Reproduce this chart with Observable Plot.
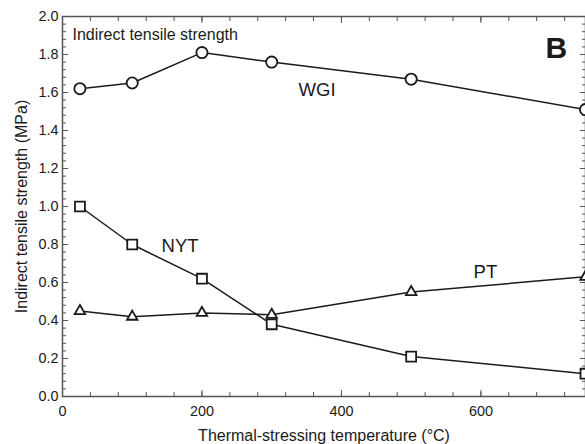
<!DOCTYPE html>
<html><head><meta charset="utf-8">
<script src="https://cdn.jsdelivr.net/npm/d3@7"></script>
<script src="https://cdn.jsdelivr.net/npm/@observablehq/plot@0.6"></script>
<style>
body{margin:0;background:#fff}
#chart svg{font-family:"Liberation Sans",Arial,Helvetica,sans-serif}
</style>
</head><body><div id="chart"></div>
<script>
// Data
const temperatures = [25, 100, 200, 300, 500, 750];
const wgi = [1.62, 1.65, 1.81, 1.76, 1.67, 1.51];
const nyt = [1.00, 0.80, 0.62, 0.38, 0.21, 0.12];
const pt  = [0.45, 0.42, 0.44, 0.43, 0.55, 0.63];

const xTickValues = [0, 200, 400, 600];
const yTickValues = [0.0, 0.2, 0.4, 0.6, 0.8, 1.0, 1.2, 1.4, 1.6, 1.8, 2.0];
const xMinorTicks = d3.range(0, 741, 40);
const yMinorTicks = d3.range(0, 50).map(i => i * 0.04);

const seriesNames = ["WGI", "NYT", "PT"];
const xLabel = "Thermal-stressing temperature (°C)";
const yLabel = "Indirect tensile strength (MPa)";
const rows = (vals, name) => temperatures.map((t, i) => ({t, v: vals[i], name}));
const wgiRows = rows(wgi, "WGI");
const nytRows = rows(nyt, "NYT");
const ptRows = rows(pt, "PT");

const ink = "#1a1a1a";
const axisInk = "#555";

const tickAxes = (ticks, size) => [
  Plot.axisX(ticks, {anchor: "bottom", tickSize: size, dy: -size, fill: "none", stroke: axisInk, label: null}),
  Plot.axisX(ticks, {anchor: "top", tickSize: size, dy: size, fill: "none", stroke: axisInk, label: null})
];
const tickAxesY = (ticks, size) => [
  Plot.axisY(ticks, {anchor: "left", tickSize: size, dx: size, fill: "none", stroke: axisInk, label: null}),
  Plot.axisY(ticks, {anchor: "right", tickSize: size, dx: -size, fill: "none", stroke: axisInk, label: null})
];

const chart = Plot.plot({
  width: 585,
  height: 444,
  marginLeft: 62,
  marginRight: 0,
  marginTop: 16,
  marginBottom: 48,
  style: {fontSize: "14.4px", color: ink, background: "#fff"},
  x: {domain: [0, 750]},
  y: {domain: [0, 2]},
  marks: [
    ...tickAxes(xMinorTicks, 4),
    ...tickAxes(xTickValues, 6),
    ...tickAxesY(yMinorTicks, 4),
    ...tickAxesY(yTickValues, 6),
    Plot.axisX(xTickValues, {anchor: "bottom", tickSize: 0, tickPadding: 9, tickFormat: d => String(d), label: null, fontSize: 14.4}),
    Plot.axisY(yTickValues, {anchor: "left", tickSize: 0, tickPadding: 4, tickFormat: d3.format(".1f"), label: null, fontSize: 14.4}),
    Plot.text([xLabel], {frameAnchor: "bottom", dy: 39, text: d => d, lineAnchor: "middle", textAnchor: "middle", fontSize: 16, fill: ink}),
    Plot.text([yLabel], {frameAnchor: "left", dx: -41, rotate: -90, text: d => d, lineAnchor: "middle", textAnchor: "middle", fontSize: 16, fill: ink}),
    Plot.frame({stroke: axisInk, strokeWidth: 1.5}),
    Plot.line(wgiRows, {x: "t", y: "v", stroke: ink, strokeWidth: 1.5}),
    Plot.line(nytRows, {x: "t", y: "v", stroke: ink, strokeWidth: 1.5}),
    Plot.line(ptRows, {x: "t", y: "v", stroke: ink, strokeWidth: 1.5}),
    Plot.dot(wgiRows, {x: "t", y: "v", symbol: "circle", r: 5.6, fill: "#fff", stroke: ink, strokeWidth: 1.8}),
    Plot.dot(nytRows, {x: "t", y: "v", symbol: "square", r: 5.6, fill: "#fff", stroke: ink, strokeWidth: 1.8}),
    Plot.dot(ptRows, {x: "t", y: "v", symbol: "triangle", r: 3.9, fill: "#fff", stroke: ink, strokeWidth: 1.8}),
    Plot.text(["Indirect tensile strength"], {x: 14.3, y: 1.874, text: d => d, textAnchor: "start", lineAnchor: "bottom", fontSize: 16, fill: ink}),
    Plot.text(["B"], {x: 692.6, y: 1.784, text: d => d, textAnchor: "start", lineAnchor: "bottom", fontSize: 30, fontWeight: "bold", fill: ink}),
    Plot.text([seriesNames[0]], {x: 338.5, y: 1.584, text: d => d, textAnchor: "start", lineAnchor: "bottom", fontSize: 18.5, fill: ink}),
    Plot.text([seriesNames[1]], {x: 142, y: 0.759, text: d => d, textAnchor: "start", lineAnchor: "bottom", fontSize: 18.5, fill: ink}),
    Plot.text([seriesNames[2]], {x: 589.5, y: 0.626, text: d => d, textAnchor: "start", lineAnchor: "bottom", fontSize: 18.5, fill: ink})
  ]
});
document.getElementById("chart").appendChild(chart);
</script>
</body></html>
